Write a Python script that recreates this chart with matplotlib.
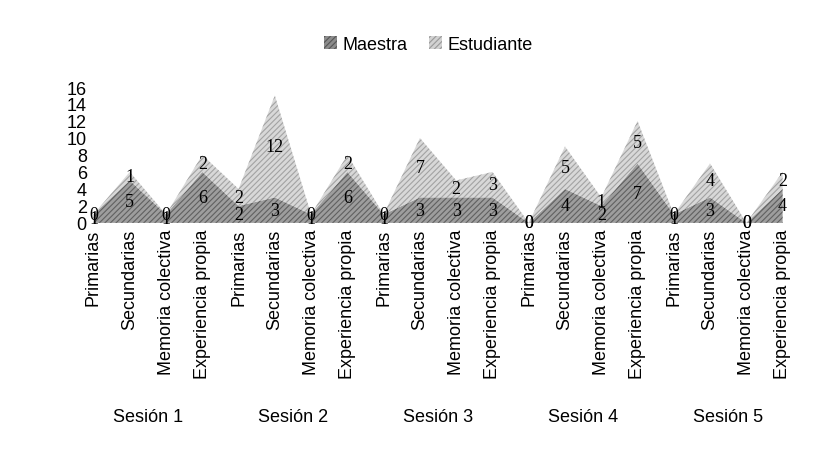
import matplotlib
matplotlib.use("Agg")
import matplotlib.pyplot as plt
import matplotlib.transforms as mtransforms
import numpy as np

categories = ["Primarias", "Secundarias", "Memoria colectiva", "Experiencia propia"] * 5
sessions = ["Sesión 1", "Sesión 2", "Sesión 3", "Sesión 4", "Sesión 5"]
maestra = [1, 5, 1, 6, 2, 3, 1, 6, 1, 3, 3, 3, 0, 4, 2, 7, 1, 3, 0, 4]
estudiante = [0, 1, 0, 2, 2, 12, 0, 2, 0, 7, 2, 3, 0, 5, 1, 5, 0, 4, 0, 2]
yticks = [0, 2, 4, 6, 8, 10, 12, 14, 16]

plt.rcParams['hatch.linewidth'] = 0.8
fig = plt.figure(figsize=(8.4, 4.56), dpi=100)
ax = fig.add_axes([0.11, 0.509, 0.826, 0.298])
x = np.arange(len(categories))
m = np.array(maestra, float)
e = np.array(estudiante, float)
plt.rcParams['hatch.color'] = '#555555'
ax.fill_between(x, 0, m, facecolor='#8c8c8c', edgecolor='#555555', hatch='//////', linewidth=0, alpha=0.85)
ax.fill_between(x, m, m + e, facecolor='#d2d2d2', edgecolor='#999999', hatch='//////', linewidth=0, alpha=0.85)

for xi, mv, ev in zip(x, m, e):
    ax.text(xi, mv / 2, f"{int(mv)}", ha='center', va='center', fontsize=13, family='Liberation Serif')
    ax.text(xi, mv + ev / 2, f"{int(ev)}", ha='center', va='center', fontsize=13, family='Liberation Serif')

ax.set_xlim(-0.03, len(categories) - 1 + 0.1)
ax.set_ylim(0, 16)
ax.set_yticks(yticks)
ax.set_yticklabels([str(v) for v in yticks], fontsize=13, family='Liberation Sans')
ax.set_xticks(x)
ax.set_xticklabels(categories, rotation=90, fontsize=13, family='Liberation Sans')
ax.tick_params(length=0, pad=4)
for s in ax.spines.values():
    s.set_visible(False)

trans = mtransforms.blended_transform_factory(ax.transData, fig.transFigure)
for i, s in enumerate(sessions):
    fig.text(i * 4 + 1.5, 1 - 418 / 456, s, ha='center', va='center', fontsize=13,
             family='Liberation Sans', transform=trans)

from matplotlib.patches import Patch
handles = [Patch(facecolor='#8c8c8c', edgecolor='#555555', hatch='//////', lw=0, label='Maestra'),
           Patch(facecolor='#d2d2d2', edgecolor='#999999', hatch='//////', lw=0, label='Estudiante')]
fig.legend(handles=handles, loc='center', bbox_to_anchor=(0.51, 1 - 45 / 456), ncol=2, frameon=False,
           prop={'family': 'Liberation Sans', 'size': 13}, handlelength=0.7, handleheight=0.7,
           columnspacing=1.2, handletextpad=0.3)
fig.savefig("out.png", dpi=100)
